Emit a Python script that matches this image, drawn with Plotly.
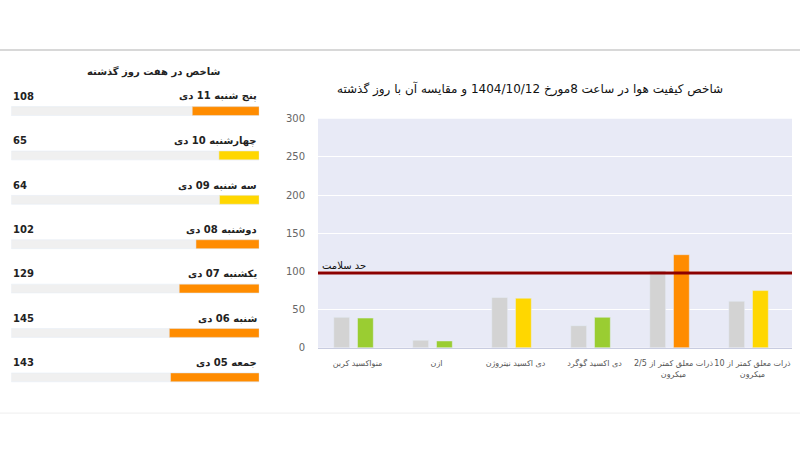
import plotly.graph_objects as go

# main chart data
pollutants = ['منواکسید کربن', 'ازن', 'دی اکسید نیتروژن', 'دی اکسید گوگرد',
              'ذرات معلق کمتر از 2/5<br>میکرون', 'ذرات معلق کمتر از 10<br>میکرون']
yesterday = [40, 10, 66, 29, 101, 61]
today = [39, 9, 65, 40, 122, 75]
today_colors = ['#9ACD32', '#9ACD32', '#FFD700', '#9ACD32', '#FF8C00', '#FFD700']
health_limit = 98

# last seven days
days = ['پنج شنبه 11 دی', 'چهارشنبه 10 دی', 'سه شنبه 09 دی', 'دوشنبه 08 دی',
        'یکشنبه 07 دی', 'شنبه 06 دی', 'جمعه 05 دی']
day_values = [108, 65, 64, 102, 129, 145, 143]
day_colors = ['#FF8C00', '#FFD700', '#FFD700', '#FF8C00', '#FF8C00', '#FF8C00', '#FF8C00']
track_max = 400

font = 'DejaVu Sans'
fig = go.Figure()

fig.add_trace(go.Bar(x=pollutants, y=yesterday, marker_color='#D3D3D3', width=0.2,
                     offset=-0.3, hoverinfo='skip'))
fig.add_trace(go.Bar(x=pollutants, y=today, marker_color=today_colors, width=0.2,
                     offset=0.0, hoverinfo='skip'))

ypos = list(range(len(days)))
fig.add_trace(go.Bar(y=ypos, x=[track_max] * len(days), orientation='h', width=0.2,
                     marker_color='#F0F0F0', xaxis='x2', yaxis='y2', hoverinfo='skip'))
fig.add_trace(go.Bar(y=ypos, x=day_values, orientation='h', width=0.2,
                     marker_color=day_colors, xaxis='x2', yaxis='y2', hoverinfo='skip'))

annotations = []
for i, (d, v) in enumerate(zip(days, day_values)):
    annotations.append(dict(x=0, y=i - 0.33, xref='x2', yref='y2', text='<b>' + d + '</b>',
                            showarrow=False, xanchor='right', yanchor='middle',
                            font=dict(size=10, color='#222')))
    annotations.append(dict(x=track_max, y=i - 0.33, xref='x2', yref='y2', text='<b>%d</b>' % v,
                            showarrow=False, xanchor='left', yanchor='middle',
                            font=dict(size=10, color='#222')))
annotations.append(dict(x=-0.5, xref='x', y=health_limit, yref='y', text='حد سلامت',
                        showarrow=False, xanchor='left', yanchor='bottom',
                        xshift=2, font=dict(size=10, color='#111')))
annotations.append(dict(x=0.106, y=0.86, xref='paper', yref='paper', text='<b>شاخص در هفت روز گذشته</b>',
                        showarrow=False, font=dict(size=10, color='#222')))
annotations.append(dict(x=0.906, y=0.825, xref='paper', yref='paper',
                        text='شاخص کیفیت هوا در ساعت 8مورخ 1404/10/12 و مقایسه آن با روز گذشته',
                        showarrow=False, font=dict(size=12, color='#111')))

fig.update_layout(
    width=800, height=450, margin=dict(l=0, r=0, t=0, b=0),
    paper_bgcolor='white', plot_bgcolor='rgba(0,0,0,0)', showlegend=False,
    barmode='overlay', font=dict(family=font, size=10, color='#555'),
    xaxis=dict(domain=[0.3975, 0.99], showgrid=False, ticks='', tickangle=0, automargin=False,
               tickfont=dict(size=8, color='#555'), linecolor='#C8CCE0', showline=True,
               ticklabelstandoff=8),
    yaxis=dict(domain=[0.227, 0.736], range=[0, 300], dtick=50, gridcolor='white', automargin=False,
               zeroline=False, tickfont=dict(size=10, color='#666'), ticklabelstandoff=12),
    xaxis2=dict(domain=[0.014, 0.324], range=[track_max, 0], visible=False),
    yaxis2=dict(domain=[0.122, 0.842], range=[6.4, -0.9], visible=False),
    annotations=annotations,
    shapes=[
        dict(type='rect', xref='x domain', x0=0, x1=1, yref='y domain', y0=0, y1=1,
             fillcolor='#E8EAF6', line_width=0, layer='below'),
        dict(type='line', xref='x domain', x0=0, x1=1, yref='y', y0=health_limit, y1=health_limit,
             line=dict(color='#8B0000', width=3)),
        dict(type='line', xref='paper', x0=0, x1=1, yref='paper', y0=0.889, y1=0.889,
             line=dict(color='#D8D8D8', width=2)),
        dict(type='line', xref='paper', x0=0, x1=1, yref='paper', y0=0.082, y1=0.082,
             line=dict(color='#EEEEEE', width=1)),
    ],
)

fig.write_html('out.html', config={'displayModeBar': False},
               post_script="document.body.style.margin='0';")
